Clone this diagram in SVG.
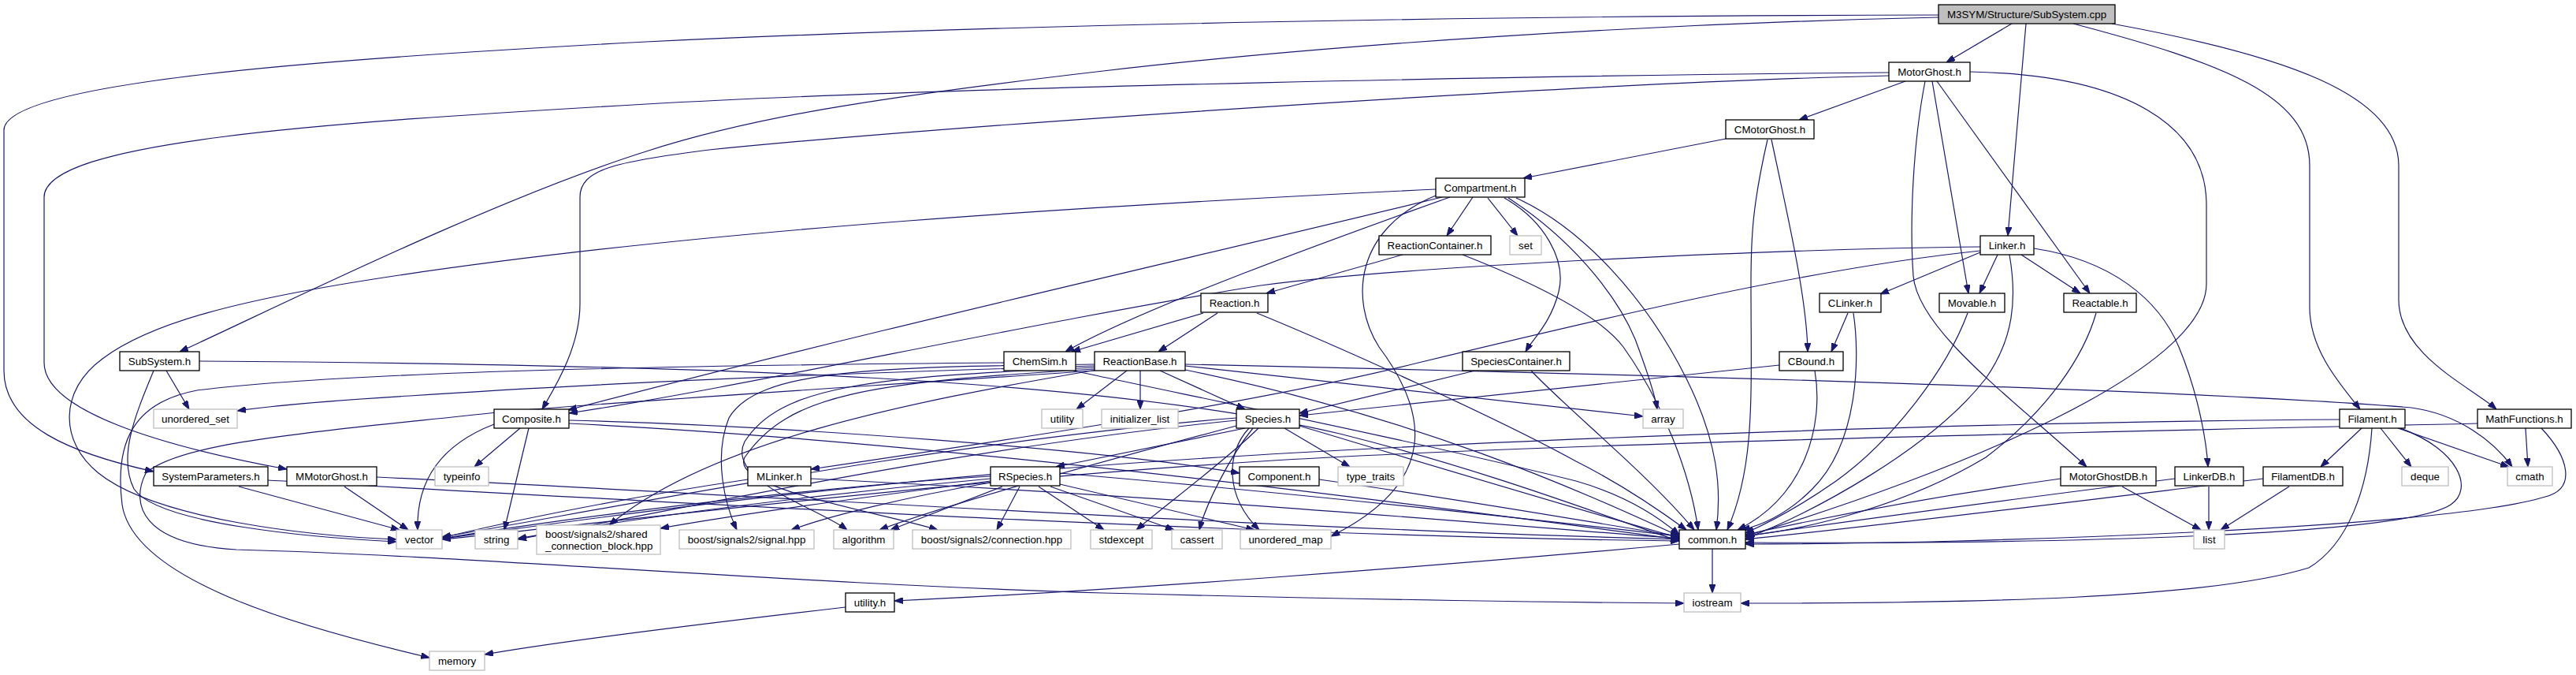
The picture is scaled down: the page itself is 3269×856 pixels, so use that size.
<svg xmlns="http://www.w3.org/2000/svg" width="3269" height="856" viewBox="0 0 3269 856">
<style>
.e path{fill:none;stroke:#191970;stroke-width:1.2;marker-end:url(#a)}
.n rect{fill:#fff;stroke:#000;stroke-width:1.3}
.x rect{fill:#fff;stroke:#bfbfbf;stroke-width:1.3}
.r rect{fill:#bfbfbf;stroke:#000;stroke-width:1.3}
text{font-family:"Liberation Sans",Arial,Helvetica,sans-serif;font-size:13.33px;fill:#000;text-anchor:middle}
text.l{text-anchor:start}
</style>
<defs>
<marker id="a" viewBox="0 0 11 8" refX="11" refY="4" markerWidth="11" markerHeight="8" markerUnits="userSpaceOnUse" orient="auto"><path d="M0,0 L11,4 L0,8 z" fill="#191970" stroke="#191970" stroke-width="1"/></marker>
</defs>
<rect width="3269" height="856" fill="#fff"/>
<g id="edges" class="e">
<path d="M2460,19 C1900,20 1300,30 820,53 C400,75 5,105 5,165 L5,470 C5,540 90,575 195,598"/>
<path d="M2460,22 C2100,30 1700,55 1400,90 C1100,125 950,150 820,192 C620,255 330,400 228,446"/>
<path d="M2553,30 L2470,79"/>
<path d="M2571,30 L2548,299"/>
<path d="M2631,30 C2820,80 2931,120 2931,210 L2931,390 C2931,445 2972,490 2995,519"/>
<path d="M2680,30 C2900,70 3044,120 3044,210 L3044,380 C3044,450 3135,490 3168,519"/>
<path d="M2397,92 C2000,95 1200,110 820,132 C400,156 56,180 56,250 L56,460 C56,520 200,565 364,595"/>
<path d="M2397,96 C2000,105 1200,160 900,190 C780,205 736,215 736,250 L736,385 C736,440 705,490 688,519"/>
<path d="M2418,103 L2283,152"/>
<path d="M2443,103 C2428,180 2423,280 2428,350 C2434,420 2560,510 2648,592"/>
<path d="M2452,103 L2498,372"/>
<path d="M2458,103 L2652,372"/>
<path d="M2500,91 C2700,95 2800,160 2800,260 L2800,360 C2800,470 2480,600 2215,680"/>
<path d="M2190,176 L1933,226"/>
<path d="M2248,177 C2270,280 2293,380 2294,446"/>
<path d="M2243,177 C2224,260 2222,300 2222,360 C2222,500 2228,590 2192,672"/>
<path d="M1822,240 C1400,260 900,290 500,350 C300,380 190,410 130,455 C75,495 75,560 125,600 C200,660 400,680 503,684"/>
<path d="M1830,250 C1500,330 1100,420 721,520"/>
<path d="M1840,250 C1700,300 1450,390 1352,446"/>
<path d="M1869,250 L1836,299"/>
<path d="M1888,251 L1926,299"/>
<path d="M1822,248 C1720,290 1712,380 1750,440 C1810,520 1830,610 1689,680"/>
<path d="M1909,251 C1960,280 1988,330 1978,370 C1968,410 1945,430 1936,446"/>
<path d="M1914,251 C1990,300 2050,370 2075,430 C2090,470 2100,500 2103,519"/>
<path d="M1924,251 C2010,290 2090,380 2140,480 C2180,560 2185,620 2178,672"/>
<path d="M1780,323 L1607,372"/>
<path d="M1856,323 C1950,360 2030,400 2060,440 C2110,510 2145,600 2155,672"/>
<path d="M1527,397 L1360,446"/>
<path d="M1545,397 L1470,446"/>
<path d="M1595,397 C1700,440 1900,530 2000,585 C2060,615 2110,650 2140,672"/>
<path d="M2513,313 C2300,315 1800,335 1600,362 C1300,410 950,490 722,524"/>
<path d="M2513,318 C2300,340 2050,400 1800,460 C1600,510 1300,555 1029,595"/>
<path d="M2513,320 L2386,373"/>
<path d="M2535,323 L2512,372"/>
<path d="M2565,323 L2640,372"/>
<path d="M2581,315 C2680,330 2740,380 2765,440 C2790,500 2800,560 2802,592"/>
<path d="M2550,323 C2560,380 2555,430 2520,480 C2450,570 2300,650 2215,683"/>
<path d="M2345,397 L2324,446"/>
<path d="M2352,397 C2360,450 2360,560 2300,620 C2270,650 2240,665 2210,672"/>
<path d="M2497,397 C2470,470 2400,560 2330,610 C2280,645 2240,665 2215,676"/>
<path d="M2660,397 C2645,450 2600,520 2520,580 C2420,640 2300,670 2215,680"/>
<path d="M211,470 L240,519"/>
<path d="M195,470 C170,530 150,580 170,620 C200,665 400,682 503,687"/>
<path d="M253,458 C900,462 1400,480 1700,550 C1900,600 2050,660 2131,686"/>
<path d="M1274,460 C900,463 450,470 250,495 C170,510 145,560 155,640 C170,740 400,800 545,834"/>
<path d="M1362,470 C1500,500 1800,560 2000,610 C2070,630 2110,660 2131,678"/>
<path d="M1430,470 L1366,519"/>
<path d="M1447,470 L1447,519"/>
<path d="M1472,470 L1580,519"/>
<path d="M1389,464 C1000,475 700,490 520,502 C420,508 350,514 301,521"/>
<path d="M1392,469 C1150,510 900,560 773,666"/>
<path d="M1389,462 C1100,465 960,470 925,530 C905,580 920,640 935,672"/>
<path d="M1389,466 C1100,478 990,490 945,560 C920,610 1040,645 1075,672"/>
<path d="M1389,468 C1100,485 1000,500 945,580 C925,620 1120,650 1190,672"/>
<path d="M1504,464 L2085,528"/>
<path d="M1504,462 C2100,475 2800,495 3060,517 C3120,525 3165,560 3188,592"/>
<path d="M1504,469 C1800,530 2000,620 2131,680"/>
<path d="M1389,470 C1100,490 800,508 630,523 C400,548 230,560 185,600 C165,640 180,690 300,697 C600,705 1000,740 1400,752 C1800,762 2000,764 2137,765"/>
<path d="M1872,470 L1649,524"/>
<path d="M1943,470 C1990,520 2090,600 2150,672"/>
<path d="M2258,463 C2000,490 1800,510 1649,527"/>
<path d="M2303,470 C2315,540 2290,630 2205,672"/>
<path d="M1580,543 L1340,592"/>
<path d="M1630,543 L1713,592"/>
<path d="M1597,543 C1560,580 1480,640 1442,672"/>
<path d="M1590,543 C1560,580 1530,640 1522,672"/>
<path d="M1585,543 C1555,575 1555,630 1598,672"/>
<path d="M1569,540 C1400,585 1200,640 1116,672"/>
<path d="M1569,530 C1200,560 800,640 561,681"/>
<path d="M1569,533 C1200,570 850,650 657,683"/>
<path d="M1649,540 C1850,600 2050,660 2131,682"/>
<path d="M1257,612 C1150,630 1050,655 1004,672"/>
<path d="M1272,617 L1130,672"/>
<path d="M1294,617 L1265,672"/>
<path d="M1318,617 L1401,672"/>
<path d="M1333,617 L1490,672"/>
<path d="M1345,614 L1592,672"/>
<path d="M1345,600 C1700,630 2000,665 2131,680"/>
<path d="M1257,604 C1000,620 700,660 561,683"/>
<path d="M1257,607 C1000,630 750,665 657,684"/>
<path d="M1257,610 C1100,630 950,650 838,670"/>
<path d="M949,608 C800,630 650,660 561,682"/>
<path d="M1029,607 C1500,630 1900,665 2131,683"/>
<path d="M627,538 C570,560 528,600 530,672"/>
<path d="M660,543 L602,592"/>
<path d="M671,543 L640,672"/>
<path d="M722,533 C1000,540 1400,570 1573,600"/>
<path d="M722,537 C1200,560 1800,640 2131,684"/>
<path d="M303,617 L507,672"/>
<path d="M340,609 C900,640 1600,680 2131,686"/>
<path d="M437,617 L518,672"/>
<path d="M478,605 C1000,630 1600,670 2131,684"/>
<path d="M1674,608 C1900,640 2050,668 2131,680"/>
<path d="M2997,543 L2945,592"/>
<path d="M3021,543 L3060,592"/>
<path d="M3043,543 L3184,592"/>
<path d="M3046,543 C3120,570 3140,620 3110,640 C3050,680 2600,690 2215,688"/>
<path d="M3010,543 C3005,620 2980,690 2930,720 C2800,760 2500,765 2209,765"/>
<path d="M2969,532 C2500,535 1800,560 1400,590 C1000,620 700,665 561,683"/>
<path d="M3205,543 L3208,592"/>
<path d="M3225,543 C3260,580 3270,620 3230,630 C3100,670 2500,690 2215,690"/>
<path d="M3144,537 C2800,545 2000,560 1600,585 C1200,610 750,665 561,684"/>
<path d="M2905,617 L2818,672"/>
<path d="M2872,607 C2600,640 2400,665 2215,684"/>
<path d="M2803,617 L2803,672"/>
<path d="M2760,607 C2500,640 2350,660 2215,680"/>
<path d="M2693,617 L2793,672"/>
<path d="M2615,607 C2450,630 2320,655 2215,678"/>
<path d="M2173,696 L2173,752"/>
<path d="M2131,690 C1800,720 1400,750 1135,762"/>
<path d="M1073,770 C900,790 700,815 615,830"/>
</g>
<g id="n-SubSystem-cpp" class="r"><rect x="2460" y="6" width="224" height="24"/><text x="2572" y="23">M3SYM/Structure/SubSystem.cpp</text></g>
<g id="n-MotorGhost" class="n"><rect x="2397" y="79" width="103" height="24"/><text x="2448.5" y="96">MotorGhost.h</text></g>
<g id="n-CMotorGhost" class="n"><rect x="2190" y="152" width="112" height="24"/><text x="2246" y="169">CMotorGhost.h</text></g>
<g id="n-Compartment" class="n"><rect x="1822" y="226" width="113" height="24"/><text x="1878.5" y="243">Compartment.h</text></g>
<g id="n-ReactionContainer" class="n"><rect x="1750" y="299" width="142" height="24"/><text x="1821" y="316">ReactionContainer.h</text></g>
<g id="n-set" class="x"><rect x="1916" y="299" width="40" height="24"/><text x="1936" y="316">set</text></g>
<g id="n-Linker" class="n"><rect x="2513" y="299" width="68" height="24"/><text x="2547" y="316">Linker.h</text></g>
<g id="n-Reaction" class="n"><rect x="1524" y="372" width="85" height="24"/><text x="1566.5" y="389">Reaction.h</text></g>
<g id="n-CLinker" class="n"><rect x="2309" y="372" width="78" height="24"/><text x="2348" y="389">CLinker.h</text></g>
<g id="n-Movable" class="n"><rect x="2461" y="372" width="83" height="24"/><text x="2502.5" y="389">Movable.h</text></g>
<g id="n-Reactable" class="n"><rect x="2619" y="372" width="92" height="24"/><text x="2665" y="389">Reactable.h</text></g>
<g id="n-SubSystem-h" class="n"><rect x="152" y="446" width="101" height="24"/><text x="202.5" y="463">SubSystem.h</text></g>
<g id="n-ChemSim" class="n"><rect x="1274" y="446" width="91" height="24"/><text x="1319.5" y="463">ChemSim.h</text></g>
<g id="n-ReactionBase" class="n"><rect x="1389" y="446" width="115" height="24"/><text x="1446.5" y="463">ReactionBase.h</text></g>
<g id="n-SpeciesContainer" class="n"><rect x="1856" y="446" width="136" height="24"/><text x="1924" y="463">SpeciesContainer.h</text></g>
<g id="n-CBound" class="n"><rect x="2258" y="446" width="81" height="24"/><text x="2298.5" y="463">CBound.h</text></g>
<g id="n-unordered_set" class="x"><rect x="195" y="519" width="106" height="24"/><text x="248" y="536">unordered_set</text></g>
<g id="n-Composite" class="n"><rect x="627" y="519" width="95" height="24"/><text x="674.5" y="536">Composite.h</text></g>
<g id="n-utility" class="x"><rect x="1322" y="519" width="52" height="24"/><text x="1348" y="536">utility</text></g>
<g id="n-initializer_list" class="x"><rect x="1398" y="519" width="97" height="24"/><text x="1446.5" y="536">initializer_list</text></g>
<g id="n-Species" class="n"><rect x="1569" y="519" width="80" height="24"/><text x="1609" y="536">Species.h</text></g>
<g id="n-array" class="x"><rect x="2085" y="519" width="51" height="24"/><text x="2110.5" y="536">array</text></g>
<g id="n-Filament" class="n"><rect x="2969" y="519" width="83" height="24"/><text x="3010.5" y="536">Filament.h</text></g>
<g id="n-MathFunctions" class="n"><rect x="3144" y="519" width="119" height="24"/><text x="3203.5" y="536">MathFunctions.h</text></g>
<g id="n-SystemParameters" class="n"><rect x="195" y="592" width="145" height="24"/><text x="267.5" y="609">SystemParameters.h</text></g>
<g id="n-MMotorGhost" class="n"><rect x="364" y="592" width="114" height="24"/><text x="421" y="609">MMotorGhost.h</text></g>
<g id="n-typeinfo" class="x"><rect x="552" y="592" width="68" height="24"/><text x="586" y="609">typeinfo</text></g>
<g id="n-MLinker" class="n"><rect x="949" y="592" width="80" height="24"/><text x="989" y="609">MLinker.h</text></g>
<g id="n-RSpecies" class="n"><rect x="1257" y="592" width="88" height="24"/><text x="1301" y="609">RSpecies.h</text></g>
<g id="n-Component" class="n"><rect x="1573" y="592" width="101" height="24"/><text x="1623.5" y="609">Component.h</text></g>
<g id="n-type_traits" class="x"><rect x="1698" y="592" width="83" height="24"/><text x="1739.5" y="609">type_traits</text></g>
<g id="n-MotorGhostDB" class="n"><rect x="2615" y="592" width="121" height="24"/><text x="2675.5" y="609">MotorGhostDB.h</text></g>
<g id="n-LinkerDB" class="n"><rect x="2760" y="592" width="87" height="24"/><text x="2803.5" y="609">LinkerDB.h</text></g>
<g id="n-FilamentDB" class="n"><rect x="2872" y="592" width="101" height="24"/><text x="2922.5" y="609">FilamentDB.h</text></g>
<g id="n-deque" class="x"><rect x="3048" y="592" width="59" height="24"/><text x="3077.5" y="609">deque</text></g>
<g id="n-cmath" class="x"><rect x="3182" y="592" width="57" height="24"/><text x="3210.5" y="609">cmath</text></g>
<g id="n-vector" class="x"><rect x="503" y="672" width="58" height="24"/><text x="532" y="689">vector</text></g>
<g id="n-string" class="x"><rect x="603" y="672" width="54" height="24"/><text x="630" y="689">string</text></g>
<g id="n-shared_connection_block" class="x"><rect x="681" y="666" width="157" height="37"/><text class="l" x="692" y="682">boost/signals2/shared</text><text class="l" x="692" y="697">_connection_block.hpp</text></g>
<g id="n-signal" class="x"><rect x="862" y="672" width="171" height="24"/><text x="947.5" y="689">boost/signals2/signal.hpp</text></g>
<g id="n-algorithm" class="x"><rect x="1058" y="672" width="76" height="24"/><text x="1096" y="689">algorithm</text></g>
<g id="n-connection" class="x"><rect x="1158" y="672" width="201" height="24"/><text x="1258.5" y="689">boost/signals2/connection.hpp</text></g>
<g id="n-stdexcept" class="x"><rect x="1384" y="672" width="78" height="24"/><text x="1423" y="689">stdexcept</text></g>
<g id="n-cassert" class="x"><rect x="1487" y="672" width="64" height="24"/><text x="1519" y="689">cassert</text></g>
<g id="n-unordered_map" class="x"><rect x="1574" y="672" width="115" height="24"/><text x="1631.5" y="689">unordered_map</text></g>
<g id="n-common" class="n"><rect x="2131" y="672" width="84" height="24"/><text x="2173" y="689">common.h</text></g>
<g id="n-list" class="x"><rect x="2784" y="672" width="39" height="24"/><text x="2803.5" y="689">list</text></g>
<g id="n-utility-h" class="n"><rect x="1073" y="752" width="62" height="24"/><text x="1104" y="769">utility.h</text></g>
<g id="n-iostream" class="x"><rect x="2137" y="752" width="72" height="24"/><text x="2173" y="769">iostream</text></g>
<g id="n-memory" class="x"><rect x="545" y="826" width="70" height="24"/><text x="580" y="843">memory</text></g>
</svg>
